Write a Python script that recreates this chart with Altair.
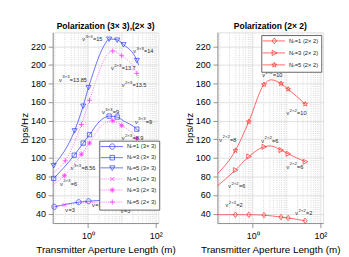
import math
import altair as alt
import pandas as pd

FONT = "Liberation Sans, Noto Sans, DejaVu Sans"
INK = "#262626"
BLUE = "#2f3fff"
PINK = "#ff2bff"
RED = "#ff3030"

# ---------------- axes ----------------
X_DOMAIN = [0.09, 120]
Y_DOMAIN = [30, 235]
X_TICKS = [1, 100]
X_MINOR = [0.1, 0.2, 0.3, 0.4, 0.5, 0.6, 0.7, 0.8, 0.9, 2, 3, 4, 5, 6, 7, 8, 9,
           10, 20, 30, 40, 50, 60, 70, 80, 90]
Y_TICKS = [40, 60, 80, 100, 120, 140, 160, 180, 200, 220]

# ---------------- left panel: (3x3) and (2x3) ----------------
L_NAMES = ["Nᵣ=1 (3× 3)", "Nᵣ=3 (3× 3)", "Nᵣ=5 (3× 3)",
           "Nᵣ=1 (2× 3)", "Nᵣ=3 (2× 3)", "Nᵣ=5 (2× 3)"]

L1_33_X = [0.1, 0.527, 1.03, 3.0, 8.0, 21.7, 31.0]
L1_33_Y = [47.5, 52.5, 53.5, 54.5, 53.5, 50.0, 47.5]
L1_33_M = [1, 1, 1, 0, 0, 1, 0]

L3_33_X = [0.096, 0.389, 0.715, 1.10, 2.14, 4.19, 7.26, 11.1, 27.7, 31.3]
L3_33_Y = [78, 103, 116, 125, 139, 145, 144, 140, 131, 129]
L3_33_M = [1, 1, 1, 1, 0, 1, 1, 0, 1, 0]

L5_33_X = [0.096, 0.40, 0.715, 1.03, 1.40, 2.14, 3.09, 4.19, 7.26, 11.1, 27.7, 31.3]
L5_33_Y = [92, 129.5, 156, 176, 191, 210, 222, 228, 227, 222, 205, 200]
L5_33_M = [1, 1, 1, 1, 0, 0, 0, 1, 1, 1, 1, 0]

L1_23_X = [0.09, 0.199, 1.0, 3.0, 9.27, 27.7, 35.0]
L1_23_Y = [47, 49.5, 52, 52.5, 51, 47, 45]
L1_23_M = [0, 1, 0, 0, 1, 1, 0]

L3_23_X = [0.09, 0.199, 0.633, 1.10, 2.14, 5.35, 9.85, 27.7, 31.3]
L3_23_Y = [71, 81, 104, 116, 132, 140, 135, 121, 118]
L3_23_M = [0, 1, 1, 1, 0, 1, 1, 1, 0]

L5_23_X = [0.09, 0.211, 0.633, 1.10, 2.14, 3.09, 5.35, 9.85, 27.7, 31.3]
L5_23_Y = [84, 97, 136, 162, 193, 207, 215, 210, 191, 186]
L5_23_M = [0, 1, 1, 1, 0, 0, 1, 1, 1, 0]

L_ANN_X = [0.67, 21.7, 4.73, 0.138, 9.84, 2.58, 24.5, 9.84, 0.305, 0.147, 0.211, 1.31, 9.27]
L_ANN_Y = [227.3, 214.8, 196.5, 184, 178.2, 149.3, 138.8, 121.5, 88.7, 72.3, 43.5, 49.2, 42.5]
L_ANN_SUP = ["3×3", "3×3", "2×3", "3×3", "2×3", "3×3", "3×3", "2×3", "3×3", "2×3", "", "", ""]
L_ANN_VAL = ["15", "14", "13.7", "13.85", "13.5", "9", "9", "8.9", "8.56", "6", "3", "3", "3"]

# ---------------- right panel: (2x2) ----------------
R_NAMES = ["Nᵣ=1 (2× 2)", "Nᵣ=3 (2× 2)", "Nᵣ=5 (2× 2)"]

R1_X = [0.09, 0.305, 0.76, 2.14, 6.82, 11.1, 35.4]
R1_Y = [39, 39, 39, 38.5, 36.5, 35.5, 32.5]
R1_M = [0, 1, 1, 1, 1, 1, 1]

R3_X = [0.09, 0.305, 0.76, 2.14, 3.3, 6.82, 11.1, 35.4]
R3_Y = [70, 87, 101.5, 112, 113, 108.5, 104.5, 96]
R3_M = [0, 1, 1, 1, 0, 1, 1, 1]

R5_X = [0.09, 0.305, 0.76, 2.14, 3.49, 6.82, 11.1, 35.4]
R5_Y = [83, 108, 139, 179, 184, 180, 174, 158]
R5_M = [0, 1, 1, 1, 0, 1, 1, 1]

R_ANN_X = [1.90, 9.84, 0.102, 1.79, 9.84, 0.187, 0.156, 18.1]
R_ANN_Y = [188.8, 148.4, 119.5, 118.5, 90.6, 69.5, 49.2, 40.6]
R_ANN_SUP = ["2×2"] * 8
R_ANN_VAL = ["10", "10", "8", "6", "6", "6", "2", "2"]


# ---------------- marker shapes (unit square paths) ----------------
def f(v):
    return f"{v:.3f}".rstrip("0").rstrip(".")


def circle(c):
    return f"M{f(c+1)},0A1,1,0,1,1,{f(c-1)},0A1,1,0,1,1,{f(c+1)},0"


def square(c):
    return f"M{f(c-0.85)},-0.85H{f(c+0.85)}V0.85H{f(c-0.85)}Z"


def tri_down(c):
    return f"M{f(c-1)},-0.75H{f(c+1)}L{f(c)},1Z"


def xmark(c):
    return f"M{f(c-0.75)},-0.75L{f(c+0.75)},0.75M{f(c-0.75)},0.75L{f(c+0.75)},-0.75"


def plus(c):
    return f"M{f(c-1)},0H{f(c+1)}M{f(c)},-1V1"


def aster(c):
    return plus(c) + xmark(c)


def diamond(c):
    return f"M{f(c)},-1.1L{f(c+0.8)},0L{f(c)},1.1L{f(c-0.8)},0Z"


def tri_right(c):
    return f"M{f(c-0.8)},-1L{f(c+1)},0L{f(c-0.8)},1Z"


def star(c):
    pts = []
    for k in range(10):
        r = 1.0 if k % 2 == 0 else 0.4
        a = math.radians(-90 + 36 * k)
        pts.append(f"{f(c + r*math.cos(a))},{f(r*math.sin(a))}")
    return "M" + "L".join(pts) + "Z"


LEG_C = 2.67
LEG_A, LEG_B = -1.67, 6.67


def solid_line():
    return f"M{f(LEG_A)},0H{f(LEG_B)}"


def dotted_line():
    out, x = [], LEG_A
    while x < LEG_B:
        out.append(f"M{f(x)},0H{f(min(x+0.3, LEG_B))}")
        x += 0.7
    return "".join(out)


L_MARK = [circle, square, tri_down, xmark, aster, plus]
L_COL = [BLUE, BLUE, BLUE, PINK, PINK, PINK]
L_DASH = [None, None, None, [1, 1.6], [1, 1.6], [1, 1.6]]
R_MARK = [diamond, tri_right, star]
R_COL = [RED, RED, RED]
R_DASH = [None, None, None]


def long_frame(names, series):
    rows = []
    for n, (xs, ys, ms) in zip(names, series):
        for i, (x, y, m) in enumerate(zip(xs, ys, ms)):
            rows.append({"series": n, "x": x, "y": y, "mk": m, "order": i})
    return pd.DataFrame(rows)


def ann_frame(xs, ys, sups, vals):
    return pd.DataFrame({"x": xs, "y": ys, "sup": sups,
                         "val": ["=" + v for v in vals], "nu": ["ν"] * len(xs)})


XS = alt.Scale(type="log", domain=X_DOMAIN, nice=False)
YS = alt.Scale(domain=Y_DOMAIN, nice=False, zero=False)


def enc_xy(ax=None, ay=None):
    return dict(x=alt.X("x:Q", scale=XS, axis=ax), y=alt.Y("y:Q", scale=YS, axis=ay))


def panel(names, series, marks, cols, dashes, ann, title, lx, ly):
    df = long_frame(names, series)
    base = alt.Chart(df)
    major = base.mark_point(opacity=0).encode(**enc_xy(
        alt.Axis(values=X_TICKS, orient="bottom", grid=True,
                 labelExpr="datum.value == 1 ? '10⁰' : '10²'",
                 title="Transmitter Aperture Length (m)", titlePadding=5, labelPadding=4,
                 titleFontWeight="normal"),
        alt.Axis(values=Y_TICKS, orient="left", grid=True, title="bps/Hz",
                 titlePadding=1, labelPadding=3, titleFontWeight="normal")))
    minor = base.mark_point(opacity=0).encode(**enc_xy(
        alt.Axis(values=X_MINOR, orient="top", grid=True, gridDash=[1, 1.5],
                 gridColor="#cfcfcf", labels=False, ticks=False, domain=False, title=None),
        None))
    layers = [minor, major]
    for n, mk, col, dash in zip(names, marks, cols, dashes):
        sub = base.transform_filter(alt.datum.series == n)
        lk = dict(strokeWidth=0.8, interpolate="monotone", color=col)
        if dash:
            lk["strokeDash"] = dash
        layers.append(sub.mark_line(**lk).encode(order="order:Q", **enc_xy()))
        layers.append(sub.transform_filter(alt.datum.mk == 1).mark_point(
            shape=mk(0), size=32, strokeWidth=0.8, color=col, filled=False, opacity=1
        ).encode(**enc_xy()))
    at = alt.Chart(ann)
    tk = dict(align="left", baseline="middle", font=FONT, color=INK)
    layers.append(at.mark_text(fontSize=6.2, **tk).encode(text="nu:N", **enc_xy()))
    layers.append(at.mark_text(fontSize=4.8, dx=3.6, dy=-2.6, **tk).encode(text="sup:N", **enc_xy()))
    layers.append(at.transform_filter(alt.datum.sup != "").mark_text(fontSize=6.2, dx=12, **tk)
                  .encode(text="val:N", **enc_xy()))
    layers.append(at.transform_filter(alt.datum.sup == "").mark_text(fontSize=6.2, dx=3.6, **tk)
                  .encode(text="val:N", **enc_xy()))
    leg_paths = [(dotted_line() if d else solid_line()) + mk(LEG_C)
                 for mk, d in zip(marks, dashes)]
    leg = alt.Legend(title=None, orient="none", legendX=lx, legendY=ly, symbolSize=36,
                     symbolStrokeWidth=0.8, labelFontSize=6.5, labelFont=FONT,
                     labelColor=INK, labelOffset=21, padding=3, rowPadding=2.4,
                     fillColor="white", strokeColor="#555555", labelLimit=200)
    legend_layer = base.transform_filter("datum.y < -1000").mark_point(
        size=36, strokeWidth=0.8, filled=False, opacity=1
    ).encode(
        color=alt.Color("series:N", scale=alt.Scale(domain=names, range=cols), legend=leg),
        shape=alt.Shape("series:N", scale=alt.Scale(domain=names, range=leg_paths), legend=leg),
        **enc_xy())
    layers.append(legend_layer)
    return alt.layer(*layers).resolve_axis(x="independent", y="independent").properties(
        width=118, height=213,
        title=alt.Title(title, fontSize=9.5, fontWeight="bold", font=FONT, color="#000000", offset=2))


left = panel(L_NAMES,
             [(L1_33_X, L1_33_Y, L1_33_M), (L3_33_X, L3_33_Y, L3_33_M), (L5_33_X, L5_33_Y, L5_33_M),
              (L1_23_X, L1_23_Y, L1_23_M), (L3_23_X, L3_23_Y, L3_23_M), (L5_23_X, L5_23_Y, L5_23_M)],
             L_MARK, L_COL, L_DASH,
             ann_frame(L_ANN_X, L_ANN_Y, L_ANN_SUP, L_ANN_VAL),
             "Polarization (3× 3),(2× 3)", 52, 121)
right = panel(R_NAMES, [(R1_X, R1_Y, R1_M), (R3_X, R3_Y, R3_M), (R5_X, R5_Y, R5_M)],
              R_MARK, R_COL, R_DASH,
              ann_frame(R_ANN_X, R_ANN_Y, R_ANN_SUP, R_ANN_VAL),
              "Polarization (2× 2)", 49, 3)

chart = alt.hconcat(left, right, spacing=8).resolve_scale(
    color="independent", shape="independent"
).resolve_legend(color="independent", shape="independent").properties(
    padding={"left": 12, "top": 0, "right": 0, "bottom": 0}
).configure_view(stroke="#4a4a4a", strokeWidth=0.7).configure_axis(
    labelFont=FONT, labelFontSize=8, labelColor=INK, titleFont=FONT, titleFontSize=7.8,
    titleFontWeight="normal", titleColor=INK, domain=False, ticks=False,
    gridColor="#e2e2e2", gridWidth=0.6
).configure(background="white")

chart.save("out.html", embed_options={"renderer": "svg", "actions": False})
